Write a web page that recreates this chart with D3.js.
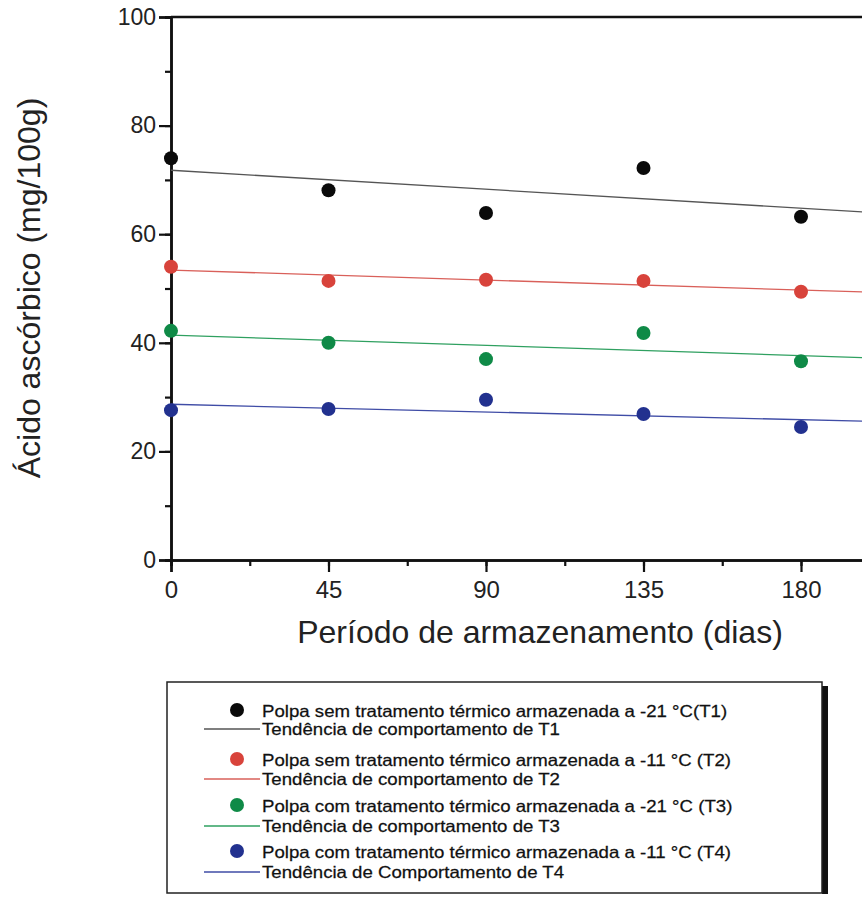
<!DOCTYPE html>
<html>
<head>
<meta charset="utf-8">
<script src="https://cdn.jsdelivr.net/npm/d3@7"></script>
<style>
  body { margin: 0; background: #fff; }
  svg { display: block; font-family: "Liberation Sans", Arial, sans-serif; }
</style>
</head>
<body>
<svg></svg>
<script>
let dias = [0, 45, 90, 135, 180]
let t1 = [74.0, 68.1, 63.9, 72.2, 63.2]
let t2 = [54.0, 51.4, 51.6, 51.4, 49.4]
let t3 = [42.2, 40.0, 37.0, 41.8, 36.6]
let t4 = [27.6, 27.8, 29.5, 26.9, 24.5]

let xTicks = [0, 45, 90, 135, 180]
let yTicks = [0, 20, 40, 60, 80, 100]

let pontoLabels = [
    'Polpa sem tratamento térmico armazenada a -21 °C(T1)',
    'Polpa sem tratamento térmico armazenada a -11 °C (T2)',
    'Polpa com tratamento térmico armazenada a -21 °C (T3)',
    'Polpa com tratamento térmico armazenada a -11 °C (T4)'
]
let trendLabels = [
    'Tendência de comportamento de T1',
    'Tendência de comportamento de T2',
    'Tendência de comportamento de T3',
    'Tendência de Comportamento de T4'
]

let width = 862
let height = 897

let dotColors = ['#0a0a0a', '#d8433b', '#0f8a47', '#22318f']
let lineColors = ['#555', '#d9605a', '#2fa060', '#3f4ca6']

let series = [t1, t2, t3, t4]

let svg = d3.select('svg')
    .attr('width', width)
    .attr('height', height)

let xScale = d3.scaleLinear().domain([0, 200]).range([171, 871])
let yScale = d3.scaleLinear().domain([0, 100]).range([560, 17])

// least squares trend for each series
const fit = (ys)=>{
    let mx = d3.mean(dias)
    let my = d3.mean(ys)
    let num = d3.sum(dias, (d, i)=> (d - mx) * (ys[i] - my))
    let den = d3.sum(dias, (d)=> (d - mx) * (d - mx))
    let b = num / den
    return [my - b * mx, b]
}

const drawAxes =()=>{
    // minor ticks
    let xAxisMinor = d3.axisBottom(xScale).tickValues(d3.range(0, 201, 22.5)).tickSize(6).tickFormat('')
    let yAxisMinor = d3.axisLeft(yScale).tickValues(d3.range(0, 101, 10)).tickSize(6).tickFormat('')
    let xAxis = d3.axisBottom(xScale).tickValues(xTicks).tickSize(12).tickPadding(9)
    let yAxis = d3.axisLeft(yScale).tickValues(yTicks).tickSize(12).tickPadding(3)

    let gx = svg.append('g').attr('transform', `translate(0, ${yScale(0)})`)
    gx.append('g').call(xAxisMinor)
    gx.append('g').call(xAxis)
    let gy = svg.append('g').attr('transform', `translate(${xScale(0)}, 0)`)
    gy.append('g').call(yAxisMinor)
    gy.append('g').call(yAxis)

    svg.selectAll('.domain').attr('stroke', '#111').attr('stroke-width', 2.5)
    svg.selectAll('.tick line').attr('stroke', '#111').attr('stroke-width', 2.2)
    gx.selectAll('text').attr('font-size', 24).attr('fill', '#222')
        .attr('font-family', '"Liberation Sans", Arial, sans-serif')
    gy.selectAll('text').attr('font-size', 23).attr('fill', '#222')
        .attr('font-family', '"Liberation Sans", Arial, sans-serif')

    // top frame
    svg.append('line')
        .attr('x1', xScale(0)).attr('x2', width)
        .attr('y1', yScale(100)).attr('y2', yScale(100))
        .attr('stroke', '#111').attr('stroke-width', 2.5)

    svg.append('text')
        .attr('x', 540).attr('y', 643)
        .attr('text-anchor', 'middle')
        .attr('font-size', 32)
        .attr('fill', '#222')
        .text('Período de armazenamento (dias)')

    svg.append('text')
        .attr('transform', `translate(40, 288) rotate(-90)`)
        .attr('text-anchor', 'middle')
        .attr('font-size', 32)
        .attr('fill', '#222')
        .text('Ácido ascórbico (mg/100g)')
}

const drawSeries =()=>{
    series.forEach((ys, k)=>{
        let [a, b] = fit(ys)
        svg.append('line')
            .attr('x1', xScale(0)).attr('y1', yScale(a))
            .attr('x2', xScale(200)).attr('y2', yScale(a + b * 200))
            .attr('stroke', lineColors[k])
            .attr('stroke-width', 1.3)

        svg.append('g').selectAll('circle')
            .data(ys)
            .enter()
            .append('circle')
            .attr('cx', (d, i)=> xScale(dias[i]))
            .attr('cy', (d)=> yScale(d))
            .attr('r', 7)
            .attr('fill', dotColors[k])
    })
}

const drawLegend =()=>{
    let g = svg.append('g')
    // shadow on the right
    g.append('rect').attr('x', 822).attr('y', 686).attr('width', 6).attr('height', 208).attr('fill', '#111')
    g.append('rect')
        .attr('x', 167).attr('y', 682)
        .attr('width', 655).attr('height', 211)
        .attr('fill', '#fff')
        .attr('stroke', '#222')
        .attr('stroke-width', 1.5)

    let rowsDot = [710, 759, 805, 851]
    let rowsLine = [729, 779, 826, 872]
    const label = (y, txt)=>{
        g.append('text')
            .attr('transform', `translate(262, ${y}) scale(1.13, 1)`)
            .attr('font-size', 16.5)
            .attr('fill', '#111')
            .attr('stroke', '#111')
            .attr('stroke-width', 0.25)
            .text(txt)
    }
    series.forEach((ys, k)=>{
        g.append('circle')
            .attr('cx', 237).attr('cy', rowsDot[k])
            .attr('r', 7)
            .attr('fill', dotColors[k])
        label(rowsDot[k] + 7, pontoLabels[k])
        g.append('line')
            .attr('x1', 204).attr('x2', 260)
            .attr('y1', rowsLine[k]).attr('y2', rowsLine[k])
            .attr('stroke', lineColors[k])
            .attr('stroke-width', 1.3)
        label(rowsLine[k] + 6, trendLabels[k])
    })
}

drawAxes()
drawSeries()
drawLegend()
</script>
</body>
</html>
